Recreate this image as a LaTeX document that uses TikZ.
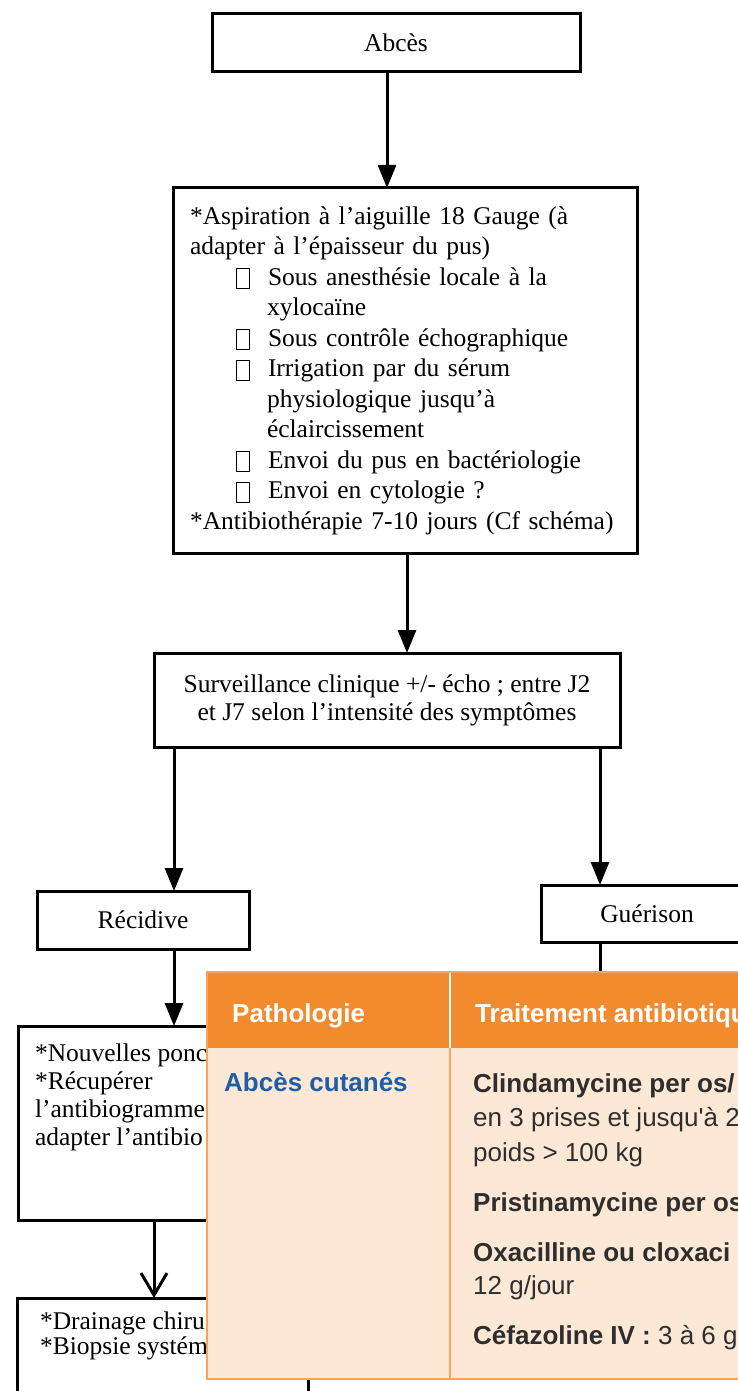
\documentclass[tikz,border=0pt]{standalone}
\usepackage{fontspec}
\setmainfont{Liberation Serif}
\newfontfamily\tabfont{Liberation Sans}
\usetikzlibrary{arrows.meta}
\definecolor{hdrorange}{HTML}{F28A2E}
\definecolor{cellpeach}{HTML}{FDE8D6}
\definecolor{ruleorange}{HTML}{F6A45E}
\definecolor{pathblue}{HTML}{1C5EA8}
\definecolor{bodygrey}{HTML}{2E2E2E}
\newcommand{\tofu}{\raisebox{-3pt}{\fboxsep=0pt\fboxrule=1pt\fbox{\rule{0pt}{19pt}\hspace{12pt}}}}

\begin{document}
\begin{tikzpicture}[x=1pt,y=-1pt]
  \tikzstyle{box}=[draw,line width=3pt,outer sep=0pt,font=\fontsize{25.5}{30.5}\selectfont]
  \tikzstyle{arr}=[line width=3pt,-{Triangle[length=23pt,width=18pt]}]
  \tikzstyle{openarr}=[line width=3pt,-{Straight Barb[length=22pt,width=26pt]}]
  \tikzstyle{cell}=[anchor=base west,inner sep=0pt,text=bodygrey,font=\tabfont\fontsize{26}{30}\selectfont]
  \tikzstyle{cellbold}=[cell,font=\tabfont\bfseries\fontsize{26}{30}\selectfont]
  \useasboundingbox (0,0) rectangle (738,1391);
  % flowchart
  \node[box,minimum width=368pt,minimum height=58pt] (abces) at (396,43) {Abcès};
  \node[box,text width=430pt,inner xsep=17pt,minimum height=365pt,align=left] (aspir) at (405,370.5)
    {*Aspiration à l’aiguille 18 Gauge (à\\
     adapter à l’épaisseur du pus)\\
     \hspace*{46pt}\tofu\hspace{18pt}Sous anesthésie locale à la\\
     \hspace*{77pt}xylocaïne\\
     \hspace*{46pt}\tofu\hspace{18pt}Sous contrôle échographique\\
     \hspace*{46pt}\tofu\hspace{18pt}Irrigation par du sérum\\
     \hspace*{77pt}physiologique jusqu’à\\
     \hspace*{77pt}éclaircissement\\
     \hspace*{46pt}\tofu\hspace{18pt}Envoi du pus en bactériologie\\
     \hspace*{46pt}\tofu\hspace{18pt}Envoi en cytologie ?\\{}%
     *Antibiothérapie 7-10 jours (Cf schéma)};
  \node[box,minimum width=466pt,minimum height=94pt,align=center,font=\fontsize{25.5}{28}\selectfont] (surv) at (387,700)
    {\raisebox{4pt}{Surveillance clinique +/- écho ; entre J2}\\ \raisebox{4pt}{et J7 selon l’intensité des symptômes}};
  \node[box,minimum width=212pt,minimum height=58pt] (recid) at (143,920) {Récidive};
  \node[box,minimum width=212pt,minimum height=57pt] (guer) at (647,913.5) {Guérison};
  \node[box,anchor=north west,inner xsep=17pt,inner ysep=12pt,font=\fontsize{25.5}{28}\selectfont] (nouv) at (18,1026)
    {\parbox[c][170pt][t]{250pt}{\raggedright\vspace*{6pt}*Nouvelles ponc\\{}*Récupérer\\ l’antibiogramme\\ adapter l’antibio}};
  \node[box,anchor=north west,inner xsep=23pt,inner ysep=12pt,font=\fontsize{25.5}{25}\selectfont] (drain) at (17,1298)
    {\parbox[c][150pt][t]{245pt}{\raggedright\vspace*{2pt}*Drainage chiru\\{}*Biopsie systém}};
  \coordinate (guerfoot) at (600,1000);
  \draw[arr] ([xshift=-9pt]abces.south) -- ([xshift=-18pt]aspir.north);
  \draw[arr] ([xshift=2pt]aspir.south) -- ([xshift=20pt]surv.north);
  \draw[arr] ([xshift=-213pt]surv.south) -- ([xshift=31pt]recid.north);
  \draw[arr] ([xshift=213pt]surv.south) -- ([xshift=-47pt]guer.north);
  \draw[arr] ([xshift=31pt]recid.south) -- ([xshift=14pt]nouv.north);
  \draw[line width=3pt] ([xshift=-47pt]guer.south) -- (guerfoot);
  \draw[openarr] ([xshift=-6pt]nouv.south) -- ([xshift=-8.5pt]drain.north);
  % antibiotic table laid over it
  \fill[cellpeach] (207,1048) rectangle (760,1379);
  \fill[hdrorange] (207,972) rectangle (760,1048);
  \draw[white,line width=2pt] (450,972) -- (450,1048);
  \draw[ruleorange,line width=2pt] (450,1048) -- (450,1379);
  \draw[ruleorange,line width=2pt] (207,972) rectangle (760,1379);
  \node[cellbold,text=white] (pathhdr) at (232,1022) {Pathologie};
  \node[cellbold,text=white] (trthdr) at (475,1022) {Traitement antibiotiqu};
  \node[cellbold,text=pathblue] (abscut) at (224,1091) {Abcès cutanés};
  \node[cellbold] (clinda) at (473,1092) {Clindamycine per os/};
  \node[cell] (clindados) at (473,1126) {en 3 prises et jusqu\textquotesingle à 2};
  \node[cell] (clindapds) at (473,1161) {poids > 100 kg};
  \node[cellbold] (pristina) at (473,1211) {Pristinamycine per os};
  \node[cellbold] (oxa) at (473,1261) {Oxacilline ou cloxaci};
  \node[cell] (oxados) at (473,1294) {12 g/jour};
  \node[cell] (cefa) at (473,1344) {\textbf{Céfazoline IV :} 3 à 6 g};
\end{tikzpicture}
\end{document}
